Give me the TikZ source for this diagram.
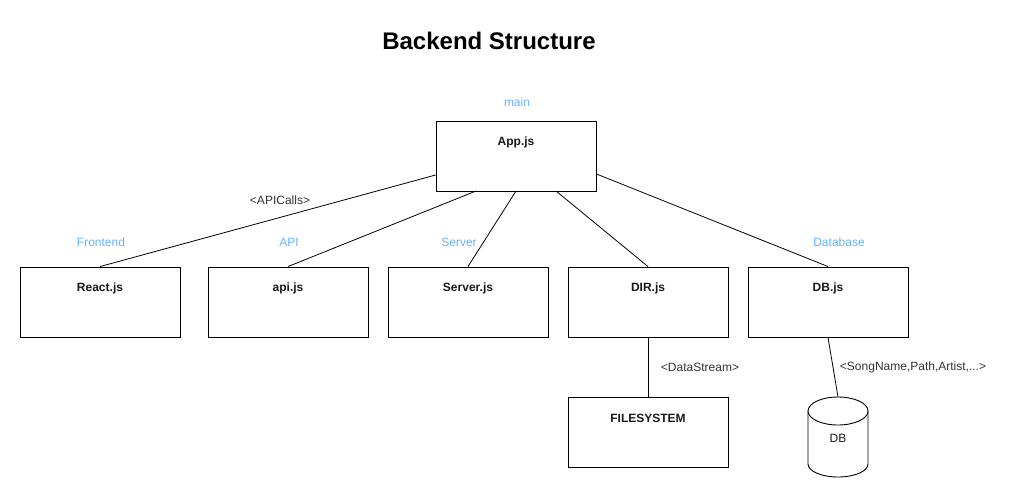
\documentclass[tikz,border=0pt]{standalone}
\usepackage{fontspec}
\setmainfont{Liberation Sans}
\definecolor{tagblue}{HTML}{66B2FF}
\definecolor{notegray}{HTML}{333333}
\tikzset{
  comp/.style={draw, line width=0.9pt, minimum width=160pt, minimum height=70pt, inner sep=0pt},
  complbl/.style={font=\fontsize{12}{14}\selectfont\bfseries, text=black!90, anchor=center, yshift=-21.5pt},
  tag/.style={font=\fontsize{12}{14}\selectfont, text=tagblue},
  note/.style={font=\fontsize{12}{14}\selectfont, text=notegray},
  link/.style={line width=0.8pt}
}
\begin{document}
\begin{tikzpicture}[x=1pt,y=-1pt]
                \useasboundingbox (0,0) rectangle (1019,498);
                \node[font=\fontsize{24}{28}\selectfont\bfseries] (title) at (489,41) {Backend Structure};
                % main component
                \node[comp, label={[complbl]north:App.js}] (app) at (516,156) {};
                \node[tag] (tmain) at (517,102) {main};
                % second row
                \node[comp, label={[complbl]north:React.js}] (react) at (100,302) {};
                \node[comp, label={[complbl]north:api.js}] (api) at (288,302) {};
                \node[comp, label={[complbl]north:Server.js}] (server) at (468,302) {};
                \node[comp, label={[complbl]north:DIR.js}] (dir) at (648,302) {};
                \node[comp, label={[complbl]north:DB.js}] (dbjs) at (828,302) {};
                \node[tag] (tfront) at (101,242) {Frontend};
                \node[tag] (tapi) at (289,242) {API};
                \node[tag] (tserver) at (459,242) {Server};
                \node[tag] (tdb) at (839,242) {Database};
                % storage
                \node[comp, label={[complbl]north:FILESYSTEM}] (fs) at (648,432) {};
                \draw[line width=0.9pt, fill=white] (808,411) -- (808,464)
                      arc[start angle=180, end angle=0, x radius=30, y radius=13] -- (868,411);
                \draw[line width=0.9pt, fill=white] (838,411) ellipse [x radius=30, y radius=14];
                \coordinate (dbtop) at (838,397);
                \node[font=\fontsize{12}{14}\selectfont, text=black!90] (db) at (838,438) {DB};
                % connectors
                \draw[link] (app.west |- 0,175) -- (react.north);
                \draw[link] (476,191) -- (api.north);
                \draw[link] (516,191) -- (server.north);
                \draw[link] (556,191) -- (dir.north);
                \draw[link] (app.east |- 0,174) -- (dbjs.north);
                \draw[link] (dir.south) -- (fs.north);
                \draw[link] (dbjs.south) -- (dbtop);
                \node[note] (napi) at (280,200) {<APICalls>};
                \node[note] (nstream) at (700,367) {<DataStream>};
                \node[note] (nsong) at (913,367) {<SongName,Path,Artist,...>};
            \end{tikzpicture}
\end{document}
